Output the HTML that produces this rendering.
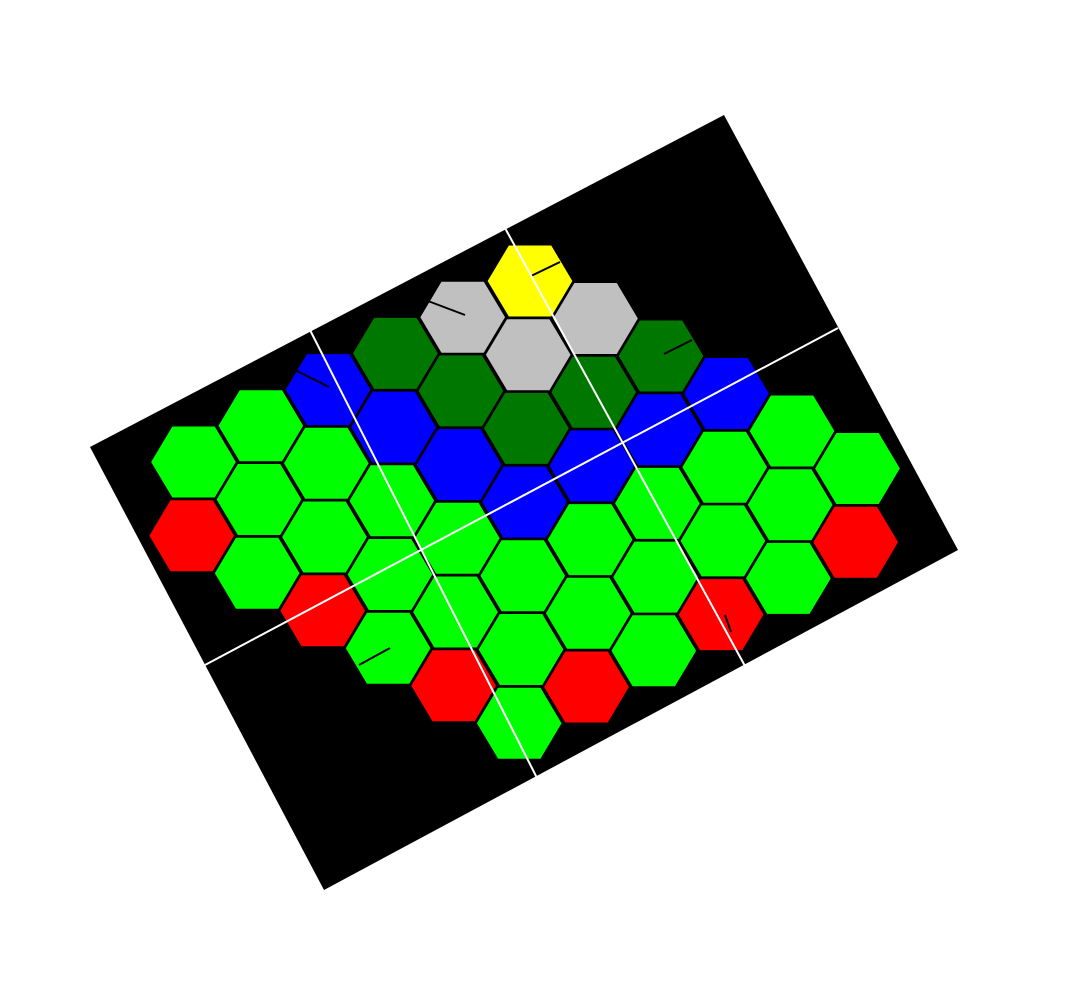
<!DOCTYPE html>
<html><head><meta charset="utf-8"><style>html,body{margin:0;padding:0;background:#fff}svg{display:block}</style></head>
<body>
<svg id="map" width="1069" height="1002" viewBox="0 0 1069 1002" xmlns="http://www.w3.org/2000/svg">
<polygon points="90,447 724,115 958,550 324,890" fill="#000"/>
<g id="hexes"></g>
<g stroke="#000" stroke-width="2" fill="none">
<line x1="531" y1="276" x2="560" y2="262"/>
<line x1="428" y1="301" x2="465" y2="315"/>
<line x1="297" y1="371" x2="329" y2="387"/>
<line x1="664" y1="354" x2="692" y2="340"/>
<line x1="359" y1="665" x2="390" y2="648"/>
<line x1="725" y1="615" x2="731" y2="632"/>
</g>
<g stroke="#fff" stroke-width="2">
<line x1="505" y1="228" x2="745" y2="666"/>
<line x1="310" y1="330" x2="537" y2="778"/>
<line x1="205" y1="665" x2="838" y2="328"/>
</g>
</svg>
<script>
const colQ = [-5,-4,-3,-2,-1,0,1,2,3,4,5];
const colStartR = [5,4,3,2,1,0,0,0,0,0,0];
const colTerrain = ["GR","GGG","BGGR","DBGGG","SDBGGR","YSDBGGG","SDBGGR","DBGGG","BGGR","GGG","GR"];
const terrainColor = {G:"#00ff00",R:"#ff0000",B:"#0000ff",D:"#007800",S:"#c0c0c0",Y:"#ffff00"};
const terrainName = {G:"grass",R:"red",B:"water",D:"forest",S:"mountain",Y:"peak"};
function hx(q,r){return 530+65.5*q-1.8*r;}
function hy(q,r){return 281+37.5*q+73.7*r;}
const W=87,H=73;
const g=document.getElementById('hexes');
colQ.forEach((q,i)=>{
  const t=colTerrain[i];
  for(let k=0;k<t.length;k++){
    const r=colStartR[i]+k;
    const cx=hx(q,r), cy=hy(q,r);
    const pts=[[cx-W/2,cy],[cx-W/4,cy-H/2],[cx+W/4,cy-H/2],[cx+W/2,cy],[cx+W/4,cy+H/2],[cx-W/4,cy+H/2]].map(p=>p[0].toFixed(1)+","+p[1].toFixed(1)).join(" ");
    const p=document.createElementNS("http://www.w3.org/2000/svg","polygon");
    p.setAttribute("points",pts);
    p.setAttribute("fill",terrainColor[t[k]]);
    p.setAttribute("stroke","#000");
    p.setAttribute("stroke-width","2");
    
    
    g.appendChild(p);
  }
});
</script>
</body></html>
